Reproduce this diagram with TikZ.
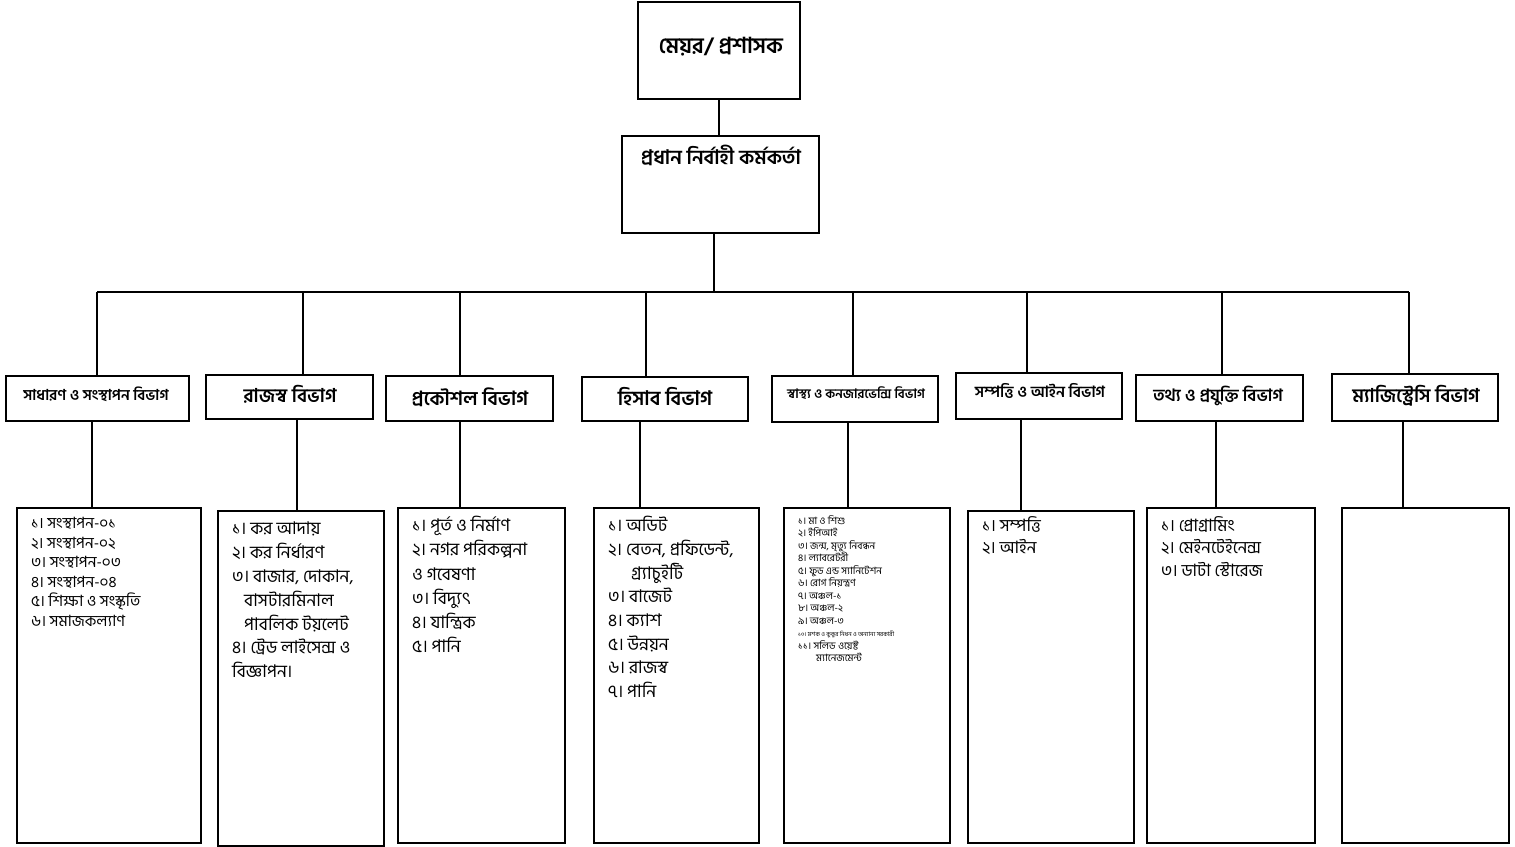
\documentclass[tikz,border=0pt]{standalone}
\usepackage{fontspec}
\newfontfamily\bn[Script=Bengali]{Hind Siliguri}
\newcommand\bnsz[2]{\bn\fontsize{#1}{#2}\selectfont}
\newcommand\bnbf[1]{\bn\bfseries\fontsize{#1}{#1}\selectfont}
\begin{document}
\begin{tikzpicture}[x=1pt,y=-1pt,
  box/.style={draw, line width=1.3pt, inner sep=0pt},
  conn/.style={draw, line width=1.2pt},
  ttl/.style={inner sep=0pt, anchor=center},
  lst/.style={inner sep=0pt, anchor=north west, align=left}]
\useasboundingbox (0,0) rectangle (1515,846);
% top boxes
\node[box, minimum width=162pt, minimum height=97pt] (m) at (719,50.5) {};
\node[box, minimum width=197pt, minimum height=97pt] (ceo) at (720.5,184.5) {};
\node[ttl, font=\bnbf{22}] (mt) at (721,47) {মেয়র/ প্রশাসক};
\node[ttl, font=\bnbf{20}] (ct) at (721,155) {প্রধান নির্বাহী কর্মকর্তা};
% department boxes
\node[box, minimum width=183pt, minimum height=45pt] (d1) at (97.5,398.5) {};
\node[box, minimum width=167pt, minimum height=44pt] (d2) at (289.5,397) {};
\node[box, minimum width=167pt, minimum height=45pt] (d3) at (469.5,398.5) {};
\node[box, minimum width=166pt, minimum height=44pt] (d4) at (665,399) {};
\node[box, minimum width=166pt, minimum height=46pt] (d5) at (855,399) {};
\node[box, minimum width=166pt, minimum height=46pt] (d6) at (1039,396) {};
\node[box, minimum width=167pt, minimum height=46pt] (d7) at (1219.5,398) {};
\node[box, minimum width=166pt, minimum height=47pt] (d8) at (1415,397.5) {};
\node[ttl, font=\bnbf{15}] (t1) at (96,394) {সাধারণ ও সংস্থাপন বিভাগ};
\node[ttl, font=\bnbf{19}] (t2) at (290,394) {রাজস্ব বিভাগ};
\node[ttl, font=\bnbf{19.5}] (t3) at (470,397) {প্রকৌশল বিভাগ};
\node[ttl, font=\bnbf{20}] (t4) at (665,397) {হিসাব বিভাগ};
\node[ttl, font=\bnbf{13}] (t5) at (856,393) {স্বাস্থ্য ও কনজারভেন্সি বিভাগ};
\node[ttl, font=\bnbf{15.5}] (t6) at (1040,391) {সম্পত্তি ও আইন বিভাগ};
\node[ttl, font=\bnbf{17}] (t7) at (1218,396) {তথ্য ও প্রযুক্তি বিভাগ};
\node[ttl, font=\bnbf{19}] (t8) at (1416,396) {ম্যাজিস্ট্রেসি বিভাগ};
% lower boxes
\node[box, minimum width=184pt, minimum height=335pt] (l1) at (109,675.5) {};
\node[box, minimum width=166pt, minimum height=335pt] (l2) at (301,678.5) {};
\node[box, minimum width=167pt, minimum height=335pt] (l3) at (481.5,675.5) {};
\node[box, minimum width=165pt, minimum height=335pt] (l4) at (676.5,675.5) {};
\node[box, minimum width=166pt, minimum height=335pt] (l5) at (867,675.5) {};
\node[box, minimum width=166pt, minimum height=332pt] (l6) at (1051,677) {};
\node[box, minimum width=168pt, minimum height=335pt] (l7) at (1231,675.5) {};
\node[box, minimum width=167pt, minimum height=335pt] (l8) at (1425.5,675.5) {};
% lists
\node[lst, font=\bnsz{15.5}{19.6}] (x1) at (31,517) {১। সংস্থাপন-০১\\২। সংস্থাপন-০২\\৩। সংস্থাপন-০৩\\৪। সংস্থাপন-০৪\\৫। শিক্ষা ও সংস্কৃতি\\৬। সমাজকল্যাণ};
\node[lst, font=\bnsz{17.5}{23.8}] (x2) at (232,522) {১। কর আদায়\\২। কর নির্ধারণ\\৩। বাজার, দোকান,\\\hspace*{12pt}বাসটারমিনাল\\\hspace*{12pt}পাবলিক টয়লেট\\৪। ট্রেড লাইসেন্স ও\\বিজ্ঞাপন।};
\node[lst, font=\bnsz{17.5}{24.2}] (x3) at (412,516) {১। পূর্ত ও নির্মাণ\\২। নগর পরিকল্পনা\\ও গবেষণা\\৩। বিদ্যুৎ\\৪। যান্ত্রিক\\৫। পানি};
\node[lst, font=\bnsz{17.5}{23.7}] (x4) at (608,516) {১। অডিট\\২। বেতন, প্রফিডেন্ট,\\\hspace*{23pt}গ্র্যাচুইটি\\৩। বাজেট\\৪। ক্যাশ\\৫। উন্নয়ন\\৬। রাজস্ব\\৭। পানি};
\node[lst, font=\bnsz{10}{12.5}] (x5) at (798,515) {১। মা ও শিশু\\২। ইপিআই\\৩। জন্ম, মৃত্যু নিবন্ধন\\৪। ল্যাবরেটরী\\৫। ফুড এন্ড স্যানিটেশন\\৬। রোগ নিয়ন্ত্রণ\\৭। অঞ্চল-১\\৮। অঞ্চল-২\\৯। অঞ্চল-৩\\{\fontsize{6}{6}\selectfont ১০। মশক ও কুকুর নিধন ও অন্যান্য সরকারী}\\১১। সলিড ওয়েষ্ট\\\hspace*{18pt}ম্যানেজমেন্ট};
\node[lst, font=\bnsz{17}{22}] (x6) at (982,516) {১। সম্পত্তি\\২। আইন};
\node[lst, font=\bnsz{17}{22.5}] (x7) at (1161,516) {১। প্রোগ্রামিং\\২। মেইনটেইনেন্স\\৩। ডাটা স্টোরেজ};
% connector coordinates
\coordinate (bc) at (714,292);
\coordinate (b1) at (97,292);
\coordinate (b2) at (303,292);
\coordinate (b3) at (460,292);
\coordinate (b4) at (646,292);
\coordinate (b5) at (853,292);
\coordinate (b6) at (1027,292);
\coordinate (b7) at (1222,292);
\coordinate (b8) at (1409,292);
\coordinate (v1) at (92,460);
\coordinate (v2) at (297,460);
\coordinate (v3) at (460,460);
\coordinate (v4) at (640,460);
\coordinate (v5) at (848,460);
\coordinate (v6) at (1021,460);
\coordinate (v7) at (1216,460);
\coordinate (v8) at (1403,460);
% connectors
\draw[conn] (m.south) -- (m.south |- ceo.north);
\draw[conn] (bc |- ceo.south) -- (bc);
\draw[conn] (b1) -- (b8);
\foreach \i in {1,...,8} {
  \draw[conn] (b\i) -- (b\i |- d\i.north);
  \draw[conn] (v\i |- d\i.south) -- (v\i |- l\i.north);
}
\end{tikzpicture}
\end{document}
